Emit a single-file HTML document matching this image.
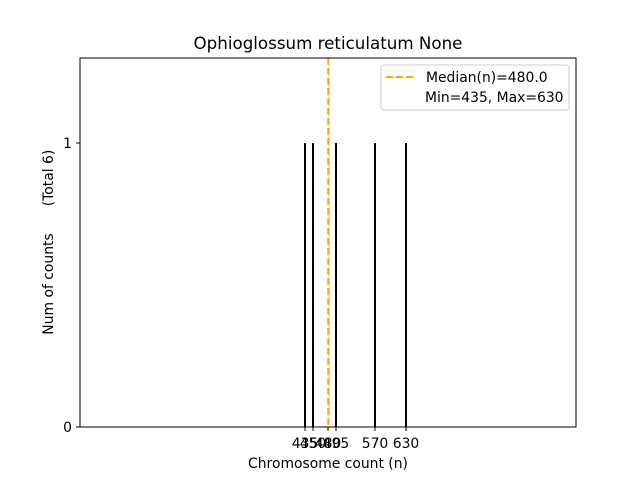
<!DOCTYPE html>
<html><head><meta charset="utf-8"><style>
body{margin:0;background:#fff}
svg text{font-family:"DejaVu Sans","Liberation Sans",sans-serif;fill:#000}
</style></head><body>
<svg width="640" height="480" viewBox="0 0 640 480" xmlns="http://www.w3.org/2000/svg">
<rect width="640" height="480" fill="#fff"/>
<text x="328" y="49" font-size="16.7" text-anchor="middle">Ophioglossum reticulatum None</text>
<g stroke="#000" stroke-width="2">
<line x1="305" y1="143" x2="305" y2="427"/>
<line x1="313" y1="143" x2="313" y2="427"/>
<line x1="336" y1="143" x2="336" y2="427"/>
<line x1="375" y1="143" x2="375" y2="427"/>
<line x1="406" y1="143" x2="406" y2="427"/>
</g>
<line x1="328.3" y1="58" x2="328.3" y2="427" stroke="#ffa500" stroke-width="2" stroke-dasharray="7,3"/>
<rect x="80" y="58" width="496" height="369" fill="none" stroke="#000" stroke-width="1"/>
<g stroke="#000" stroke-width="1">
<line x1="76" y1="143" x2="80" y2="143"/><line x1="76" y1="427" x2="80" y2="427"/>
<line x1="305" y1="427" x2="305" y2="431"/><line x1="313" y1="427" x2="313" y2="431"/>
<line x1="328" y1="427" x2="328" y2="431"/><line x1="336" y1="427" x2="336" y2="431"/>
<line x1="375" y1="427" x2="375" y2="431"/><line x1="406" y1="427" x2="406" y2="431"/>
</g>
<g font-size="13.9" text-anchor="end">
<text x="72" y="148">1</text>
<text x="72" y="432">0</text>
</g>
<g font-size="13.9" text-anchor="middle">
<text x="305" y="448">435</text><text x="313" y="448">450</text>
<text x="328" y="448">480</text><text x="336" y="448">495</text>
<text x="375" y="448">570</text><text x="406" y="448">630</text>
</g>
<text x="328" y="468" font-size="13.9" text-anchor="middle">Chromosome count (n)</text>
<text transform="translate(53,284) rotate(-90)" font-size="13.9" text-anchor="middle">Num of counts</text>
<text transform="translate(53,178) rotate(-90)" font-size="13.9" text-anchor="middle">(Total 6)</text>
<rect x="381" y="65" width="188" height="45" rx="3" fill="#fff" stroke="#ccc" stroke-width="1"/>
<line x1="386" y1="77" x2="414" y2="77" stroke="#ffa500" stroke-width="2" stroke-dasharray="7,3"/>
<text x="426" y="82" font-size="13.9">Median(n)=480.0</text>
<text x="425" y="102" font-size="13.9">Min=435, Max=630</text>
</svg>
</body></html>
